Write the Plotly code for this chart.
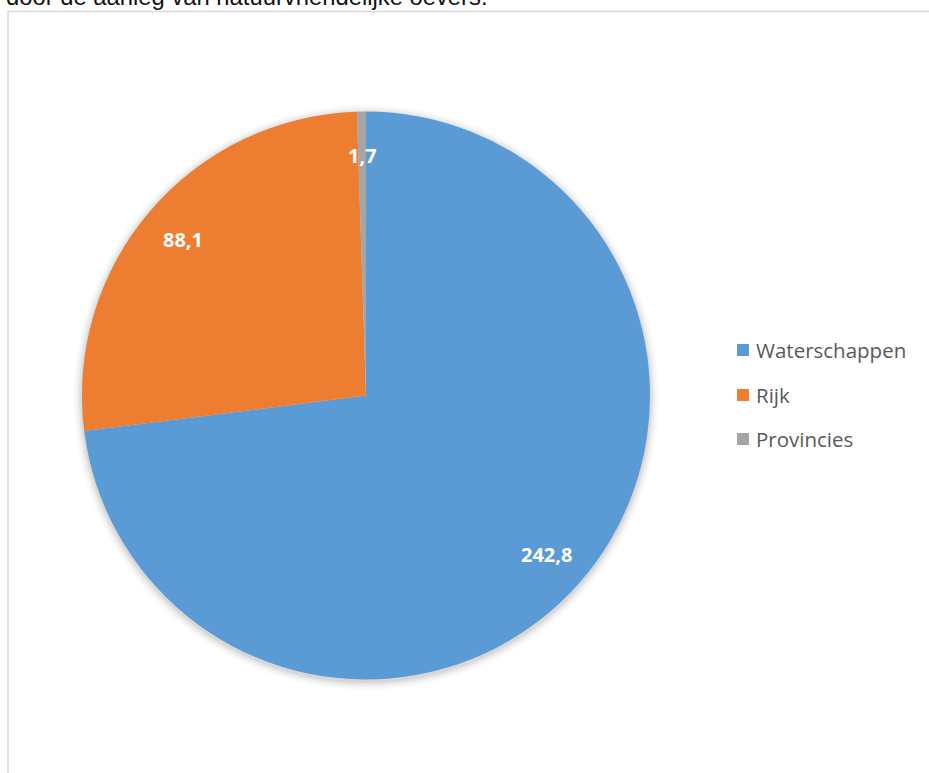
import math
import plotly.graph_objects as go

# Kosten per partij (miljoen euro)
labels = ["Waterschappen", "Rijk", "Provincies"]
values = [242.8, 88.1, 1.7]
colors = ["#5B9BD5", "#ED7D31", "#A5A5A5"]
value_texts = ["242,8", "88,1", "1,7"]

W, H = 929, 773
cx, cy, r = 366, 395.5, 284  # pie centre / radius in pixels


def px(x):
    return x / W


def py(y):
    return 1 - y / H


fig = go.Figure()
fig.add_trace(go.Pie(
    labels=labels,
    values=values,
    marker=dict(colors=colors, line=dict(width=0)),
    sort=False,
    direction="clockwise",
    rotation=0,
    textinfo="none",
    hoverinfo="label+value",
    showlegend=False,
    domain=dict(x=[px(cx - r), px(cx + r)], y=[py(cy + r), py(cy - r)]),
))

shapes = []
# soft shadow behind the pie
for i, op in enumerate([0.05, 0.04, 0.03, 0.02, 0.015]):
    rr = r + 1.5 + i * 1.8
    oy = 2
    shapes.append(dict(
        type="circle", xref="paper", yref="paper", layer="below",
        x0=px(cx - rr), x1=px(cx + rr), y0=py(cy + oy + rr), y1=py(cy + oy - rr),
        fillcolor=f"rgba(0,0,0,{op})", line=dict(width=0),
    ))
# chart border
shapes.append(dict(
    type="rect", xref="paper", yref="paper",
    x0=px(8), x1=1.02, y0=-0.02, y1=py(11.5),
    line=dict(color="#D9D9D9", width=1.5), fillcolor="rgba(0,0,0,0)",
))

annotations = []
# data labels along each slice's mid angle
total = sum(values)
start = 0.0
for v, t in zip(values, value_texts):
    mid = (start + v / 2) / total * 2 * math.pi
    start += v
    lx = cx + 0.845 * r * math.sin(mid)
    ly = cy - 0.845 * r * math.cos(mid)
    annotations.append(dict(
        x=px(lx), y=py(ly), xref="paper", yref="paper", text=f"<b>{t}</b>",
        showarrow=False, xanchor="center", yanchor="middle",
        font=dict(family="Open Sans", size=20, color="white"),
    ))

# legend
leg_y = [350, 395, 439]
for lab, col, yy in zip(labels, colors, leg_y):
    shapes.append(dict(
        type="rect", xref="paper", yref="paper",
        x0=px(737), x1=px(749), y0=py(yy + 6), y1=py(yy - 6),
        fillcolor=col, line=dict(width=0),
    ))
    annotations.append(dict(
        x=px(754), y=py(yy), xref="paper", yref="paper", text=lab,
        showarrow=False, xanchor="left", yanchor="middle",
        font=dict(family="Open Sans", size=20.5, color="#595959"),
    ))

# heading text running above the chart area
annotations.append(dict(
    x=px(4), y=py(-3), xref="paper", yref="paper",
    text="door de aanleg van natuurvriendelijke oevers.",
    showarrow=False, xanchor="left", yanchor="middle",
    font=dict(family="Liberation Sans", size=23.8, color="#111111"),
))

fig.update_layout(
    width=W, height=H,
    margin=dict(l=0, r=0, t=0, b=0),
    paper_bgcolor="white", plot_bgcolor="white",
    shapes=shapes, annotations=annotations,
)

fig.write_html("out.html")
